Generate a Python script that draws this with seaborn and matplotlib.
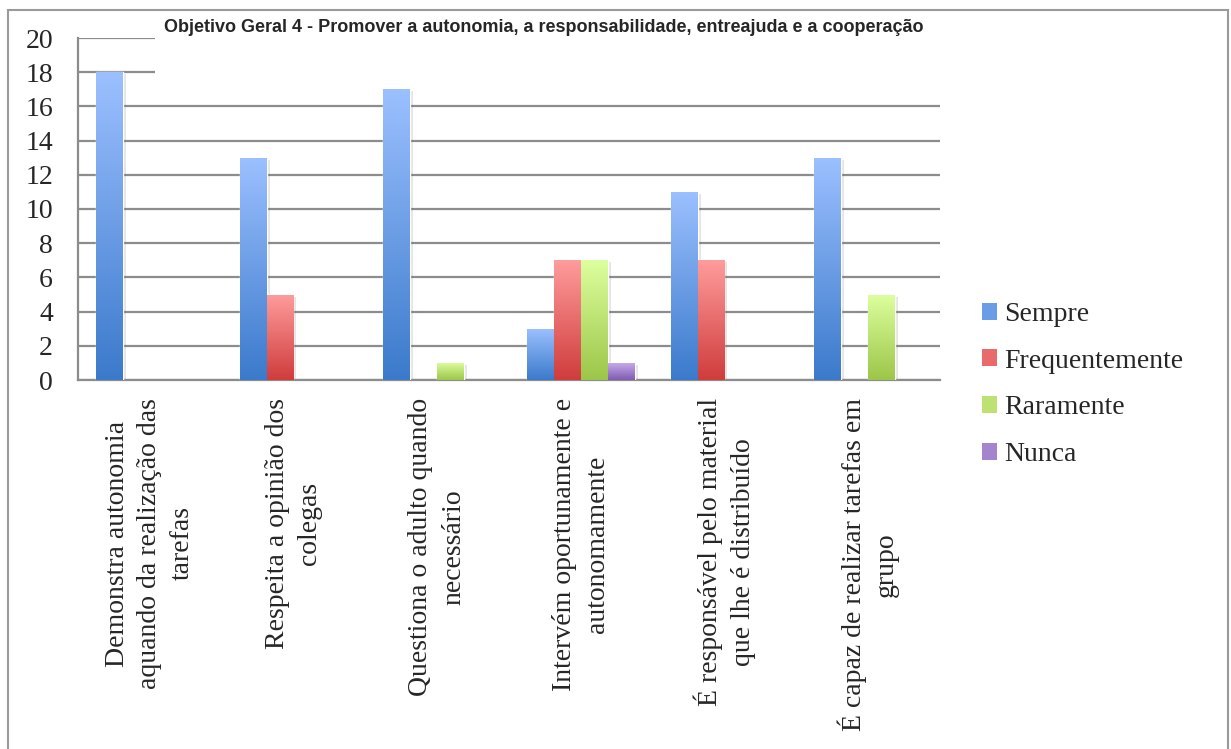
import numpy as np
import pandas as pd
import matplotlib
matplotlib.use("Agg")
import matplotlib.pyplot as plt
import matplotlib.transforms as mtransforms
from matplotlib.colors import LinearSegmentedColormap
from matplotlib.patches import Rectangle
import seaborn as sns

# dados do gráfico
itens = ["Demonstra autonomia\naquando da realização das\ntarefas",
         "Respeita a opinião dos\ncolegas",
         "Questiona o adulto quando\nnecessário",
         "Intervém oportunamente e\nautonomamente",
         "É responsável pelo material\nque lhe é distribuído",
         "É capaz de realizar tarefas em\ngrupo"]
frequencias = ["Sempre", "Frequentemente", "Raramente", "Nunca"]
sempre = [18, 13, 17, 3, 11, 13]
frequentemente = [0, 5, 0, 7, 7, 0]
raramente = [0, 0, 1, 7, 0, 5]
nunca = [0, 0, 0, 1, 0, 0]
y_ticks = [0, 2, 4, 6, 8, 10, 12, 14, 16, 18, 20]
titulo = "Objetivo Geral 4 - Promover a autonomia, a responsabilidade, entreajuda e a cooperação"

cores_topo = ["#9cc0ff", "#ff9c9c", "#ddff9e", "#c9adee"]
cores_base = ["#3b7acb", "#d03c3c", "#9cc649", "#7f5cb0"]
cores_meio = ["#6a9de6", "#e86a6a", "#bde273", "#a584cf"]

df = pd.DataFrame({
    "item": itens * 4,
    "freq": np.repeat(frequencias, len(itens)),
    "valor": sempre + frequentemente + raramente + nunca,
})

sns.set_style("white")
plt.rcParams["font.family"] = ["Liberation Serif", "DejaVu Serif"]

W, H = 1231, 749
fig = plt.figure(figsize=(W / 100, H / 100), dpi=100)
ax = fig.add_axes([78 / W, 1 - 380 / H, (940 - 78) / W, (380 - 38) / H])

sns.barplot(data=df, x="item", y="valor", hue="freq", hue_order=frequencias,
            palette=cores_meio, width=0.75, gap=0, saturation=1,
            legend=False, ax=ax, zorder=3)

# gradiente e sombra nas barras
shadow_tr = ax.transData + mtransforms.ScaledTranslation(3 / 100, -2 / 100, fig.dpi_scale_trans)
for i, cont in enumerate(ax.containers):
    cmap = LinearSegmentedColormap.from_list("g%d" % i, [cores_base[i], cores_topo[i]])
    for bar in cont:
        x, w, h = bar.get_x(), bar.get_width(), bar.get_height()
        if h <= 0:
            bar.set_visible(False)
            continue
        sh = Rectangle((x, 0), w, h, facecolor="#555555", alpha=0.15,
                       edgecolor="none", transform=shadow_tr, zorder=2)
        ax.add_patch(sh)
        grad = np.linspace(0, 1, 256).reshape(-1, 1)
        im = ax.imshow(grad, extent=[x, x + w, 0, h], origin="lower", cmap=cmap,
                       aspect="auto", zorder=4, interpolation="bilinear")
        im.set_clip_path(bar)

ax.set_xlim(-0.5, len(itens) - 0.5)
ax.set_ylim(0, 20)
ax.set_yticks(y_ticks)
ax.yaxis.grid(True, color="#8c8c8c", linewidth=1.6, zorder=0)
ax.set_axisbelow(True)
ax.set_xlabel("")
ax.set_ylabel("")
for s in ["top", "right"]:
    ax.spines[s].set_visible(False)
for s in ["left", "bottom"]:
    ax.spines[s].set_color("#8c8c8c")
    ax.spines[s].set_linewidth(1.6)
ax.tick_params(axis="both", length=0, labelsize=20)
ax.tick_params(axis="y", pad=18)
ax.tick_params(axis="x", pad=13)
ax.set_xticks(range(len(itens)))
ax.set_xticklabels(itens, rotation=90, ha="center", va="top",
                   multialignment="center", linespacing=1.4)

# caixa branca do título e moldura
fig.patches.append(Rectangle((155 / W, 1 - 82 / H), (940 - 155) / W, 70 / H,
                             transform=fig.transFigure, facecolor="white",
                             edgecolor="none", zorder=1))
fig.patches.append(Rectangle((8 / W, -0.02), (1228 - 8) / W, 1.02 - 10 / H,
                             transform=fig.transFigure, facecolor="none",
                             edgecolor="#9a9a9a", linewidth=1.5, zorder=1))
fig.text(544 / W, 1 - 27 / H, titulo, ha="center", va="center", fontsize=13,
         fontweight="bold",
         family=["Liberation Sans Narrow", "Liberation Sans", "DejaVu Sans"],
         zorder=3)

handles = [Rectangle((0, 0), 1, 1, facecolor=c, edgecolor="none") for c in cores_meio]
fig.legend(handles, frequencias, loc="upper left",
           bbox_to_anchor=(982 / W, 1 - 302 / H), frameon=False,
           handlelength=0.55, handleheight=0.55, handletextpad=0.25,
           labelspacing=0.78, fontsize=20, borderaxespad=0, borderpad=0)

fig.savefig("out.png", dpi=100)
